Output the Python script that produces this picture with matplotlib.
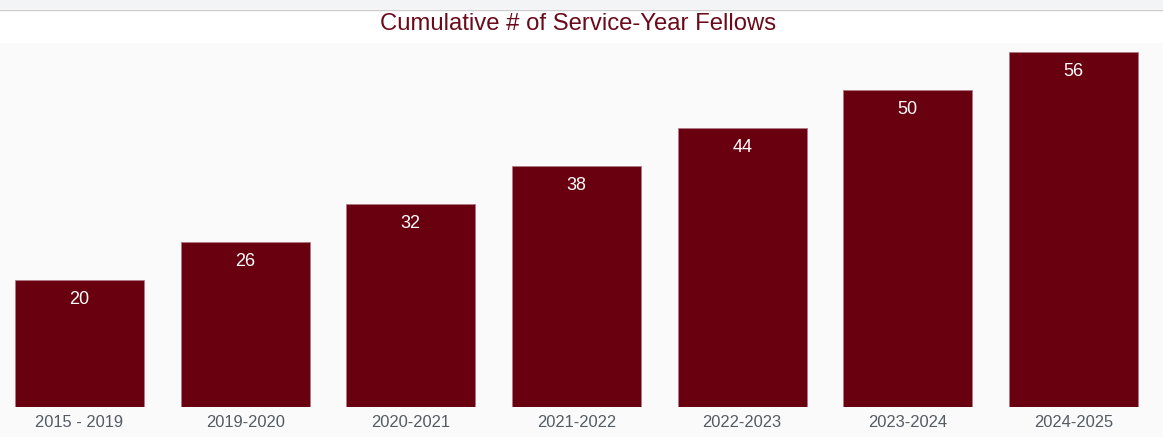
import matplotlib.pyplot as plt
from matplotlib.patches import Rectangle
from matplotlib.lines import Line2D

periods = ["2015 - 2019", "2019-2020", "2020-2021", "2021-2022",
           "2022-2023", "2023-2024", "2024-2025"]
fellows = [20, 26, 32, 38, 44, 50, 56]

W, H = 1163, 437
bar_color = "#69000f"

plt.rcParams["font.family"] = ["Liberation Sans", "DejaVu Sans"]

fig = plt.figure(figsize=(W / 100, H / 100), dpi=100, facecolor="#fafafa")

# header band: gray strip, border line, white title area
fig.add_artist(Rectangle((0, 1 - 9 / H), 1, 9 / H, transform=fig.transFigure,
                         facecolor="#f3f4f6", edgecolor="none", zorder=0))
fig.add_artist(Rectangle((0, 1 - 43 / H), 1, 34 / H, transform=fig.transFigure,
                         facecolor="white", edgecolor="none", zorder=0))
fig.add_artist(Line2D([0, 1], [1 - 9.5 / H, 1 - 9.5 / H], transform=fig.transFigure,
                      color="#cccccc", linewidth=1.0, zorder=1))

# axes placed so bar centres line up with the reference
step = 165.67
left_px = 79.5 - 0.5 * step
ax = fig.add_axes([left_px / W, (H - 406.5) / H, 7 * step / W, (406.5 - 43) / H])
ax.set_facecolor("#fafafa")

x = range(len(periods))
ax.bar(x, fellows, width=0.78, color=bar_color, edgecolor="#b07a84", linewidth=0.6)

for xi, v in zip(x, fellows):
    ax.annotate(str(v), (xi, v), xytext=(0, -19), textcoords="offset pixels",
                ha="center", va="center", color="white", fontsize=13)

ax.set_xlim(-0.5, 6.5)
ax.set_ylim(0, 57.5)
ax.set_xticks(list(x))
ax.set_xticklabels(periods, color="#555b63", fontsize=11.9)
ax.tick_params(axis="x", length=0, pad=6)
ax.set_yticks([])
for s in ax.spines.values():
    s.set_visible(False)

fig.text(0.497, 1 - 24.5 / H, "Cumulative # of Service-Year Fellows",
         ha="center", va="center", color="#6b0a1a", fontsize=17.2)

fig.savefig("out.png", dpi=100, facecolor=fig.get_facecolor())
